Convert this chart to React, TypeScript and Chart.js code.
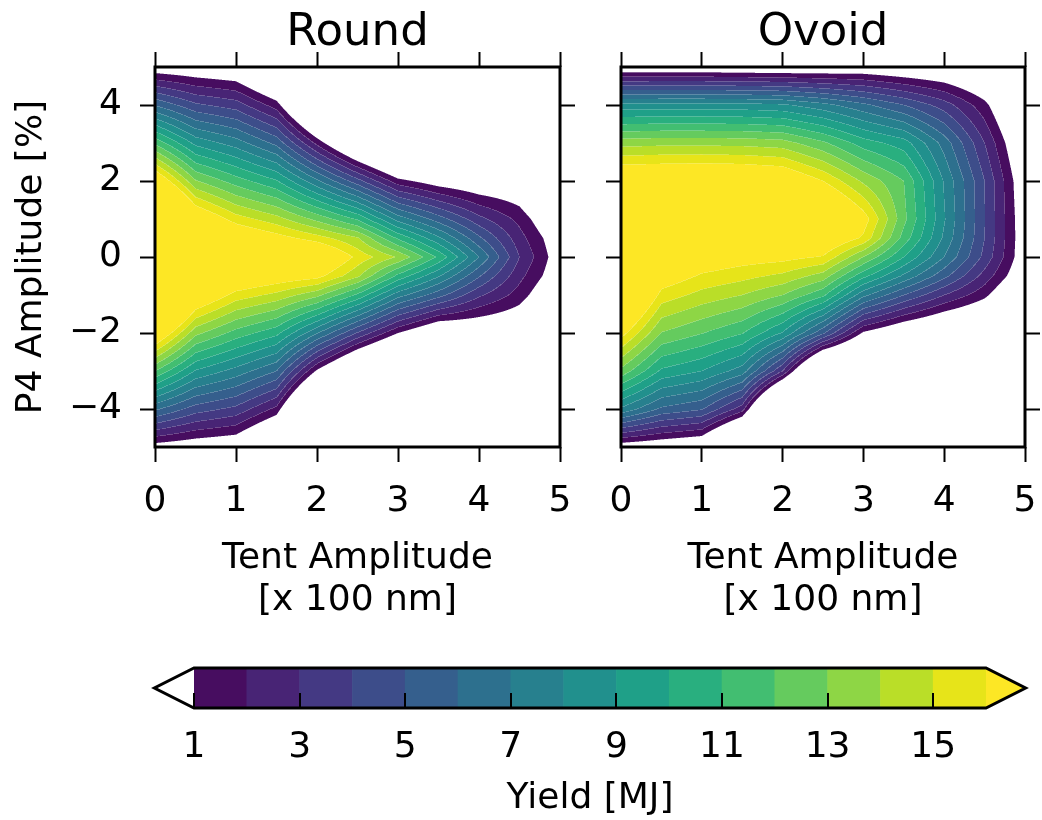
import React, { useEffect, useRef } from 'react';
import { Chart, registerables } from 'chart.js';

Chart.register(...registerables);

// ---------------- data ----------------
const tentAmplitude = [0, 0.5, 1, 1.5, 2, 2.5, 3, 3.5, 4, 4.5, 5];
const p4Amplitude = [5, 4, 3, 2, 1, 0.5, 0, -0.5, -1, -2, -3, -4, -5];

// yield [MJ], one row per P4 amplitude, one column per tent amplitude
const roundYield = [
  [0.06, -0.2, -0.5, -2.9, -9.3, -15.1, -17.4, -15.5, -11.3, -6.7, -12],
  [5.92, 4.2, 3.5, 1.5, -3.8, -8.6, -11.2, -10.3, -7.7, -4.6, -9],
  [11.78, 8.7, 7.5, 5.7, 1.7, -2.1, -4.9, -5.0, -4.0, -2.5, -6],
  [17.64, 13.1, 11.5, 10.1, 7.2, 4.4, 1.4, 0.26, -0.3, -0.4, -3],
  [23.5, 17.6, 15.5, 14.4, 12.7, 10.85, 7.6, 5.5, 3.34, 1.7, -0.8],
  [26.4, 19.8, 17.5, 16.5, 15.45, 14.1, 10.8, 8.2, 5.2, 2.4, 0],
  [29.4, 22.0, 19.5, 18.8, 18.2, 15.7, 13.9, 10.8, 7.0, 3.0, 0.2],
  [26.5, 19.9, 17.6, 16.9, 16.4, 14.2, 10.7, 8.1, 5.1, 2.3, 0],
  [23.6, 17.7, 15.6, 14.7, 13.3, 10.8, 7.45, 5.4, 3.2, 1.55, -0.8],
  [17.8, 13.3, 11.6, 10.3, 7.1, 3.9, 1.0, -0.97, -0.6, -0.6, -3],
  [12.0, 8.9, 7.6, 6.0, 0.8, -2.9, -5.45, -6.3, -4.4, -2.8, -6],
  [6.2, 4.5, 3.7, 1.7, -5.4, -9.7, -11.9, -11.7, -8.2, -5.0, -9],
  [0.4, 0.0, -0.3, -2.8, -11.7, -16.5, -18.4, -17.1, -12.0, -7.2, -12],
];

const ovoidYield = [
  [-0.19, -0.2, -0.2, -0.3, -0.37, -0.3, -0.15, -0.48, -0.74, -1.5, -4],
  [8.33, 8.4, 8.4, 8.35, 8.17, 7.35, 6.25, 5.0, 3.5, 1.35, -2],
  [13.6, 13.7, 13.7, 13.66, 13.44, 12.2, 10.5, 9.5, 6.6, 3.0, -0.9],
  [17.8, 17.9, 18.0, 17.9, 17.6, 16.0, 13.8, 12.0, 7.9, 4.0, -0.2],
  [21.95, 20.7, 19.3, 19.1, 19.6, 19.5, 16.6, 12.3, 8.1, 4.04, 0.0],
  [25.5, 19.4, 18.2, 17.84, 18.0, 17.6, 15.8, 11.6, 7.8, 4.0, 0.05],
  [23.7, 18.15, 17.0, 16.58, 16.4, 15.9, 13.0, 10.0, 7.0, 3.7, 0.05],
  [21.9, 16.9, 15.84, 15.34, 14.75, 13.55, 10.3, 7.8, 5.3, 2.6, -0.3],
  [20.1, 15.6, 14.65, 14.0, 13.0, 11.24, 7.3, 5.0, 3.0, 1.3, -1.5],
  [16.5, 12.95, 12.05, 11.07, 8.9, 5.2, 0.8, -0.7, -1.6, -2, -4],
  [12.7, 9.8, 9.0, 7.5, 3.0, -4.35, -5.3, -6.4, -6.2, -5, -7],
  [7.8, 5.8, 5.1, 2.45, -6.1, -12, -11.4, -12, -10.8, -8, -10],
  [0.16, -0.2, -0.67, -4.8, -15, -20, -17.5, -17.7, -15.4, -11, -13],
];

const yieldLevels = [1, 2, 3, 4, 5, 6, 7, 8, 9, 10, 11, 12, 13, 14, 15, 16];
const tentTicks = [0, 1, 2, 3, 4, 5];
const p4Ticks = [-4, -2, 0, 2, 4];
const yieldTicks = [1, 3, 5, 7, 9, 11, 13, 15];

// ---------------- style ----------------
const FONT = 'DejaVu Sans';
const BAND_COLORS = [
  '#470d60', '#482475', '#443983', '#3d4d8a', '#355f8d', '#2d708e', '#27808e', '#21908d',
  '#1fa088', '#29af7f', '#42be71', '#65cb5e', '#8ed645', '#bade28', '#e7e419',
];
const OVER_COLOR = '#fde725';
const UNDER_COLOR = '#ffffff';

const hexToRgb = (h: string) => [
  parseInt(h.slice(1, 3), 16),
  parseInt(h.slice(3, 5), 16),
  parseInt(h.slice(5, 7), 16),
];
const PALETTE = [...BAND_COLORS, OVER_COLOR].map(hexToRgb);

Chart.defaults.font.family = FONT;
Chart.defaults.color = '#000';

const minusFmt = (v: number) => (v < 0 ? '\u2212' + Math.abs(v) : String(v));

function locate(arr: number[], v: number): [number, number] {
  const n = arr.length;
  const asc = arr[n - 1] > arr[0];
  let i = 0;
  for (; i < n - 2; i++) {
    if (asc ? v <= arr[i + 1] : v >= arr[i + 1]) break;
  }
  let t = (v - arr[i]) / (arr[i + 1] - arr[i]);
  t = Math.max(0, Math.min(1, t));
  return [i, t];
}

function bandOf(v: number) {
  if (v < yieldLevels[0]) return -1;
  const last = yieldLevels.length - 1;
  if (v >= yieldLevels[last]) return last; // over
  for (let k = 0; k < last; k++) if (v < yieldLevels[k + 1]) return k;
  return last;
}

function makeContourPlugin(grid: number[][]) {
  return {
    id: 'contourFill',
    beforeDatasetsDraw(chart: any) {
      const { ctx, chartArea: a, scales } = chart;
      const xs = scales.x;
      const ys = scales.y;
      const w = Math.round(a.right - a.left);
      const h = Math.round(a.bottom - a.top);
      const SS = 3;
      const colI: number[] = [], colT: number[] = [];
      for (let p = 0; p < w * SS; p++) {
        const v = xs.getValueForPixel(a.left + (p + 0.5) / SS);
        const [i, t] = locate(tentAmplitude, v);
        colI.push(i); colT.push(t);
      }
      const rowI: number[] = [], rowT: number[] = [];
      for (let p = 0; p < h * SS; p++) {
        const v = ys.getValueForPixel(a.top + (p + 0.5) / SS);
        const [j, t] = locate(p4Amplitude, v);
        rowI.push(j); rowT.push(t);
      }
      const off = document.createElement('canvas');
      off.width = w; off.height = h;
      const octx = off.getContext('2d')!;
      const img = octx.createImageData(w, h);
      const d = img.data;
      for (let py = 0; py < h; py++) {
        for (let px = 0; px < w; px++) {
          let r = 0, g = 0, b = 0, n = 0, first = -2, mixed = false;
          for (let sy = 0; sy < SS; sy++) {
            const ry = py * SS + sy;
            const j = rowI[ry], ty = rowT[ry];
            const r0 = grid[j], r1 = grid[j + 1];
            for (let sx = 0; sx < SS; sx++) {
              const cx = px * SS + sx;
              const i = colI[cx], tx = colT[cx];
              const top = r0[i] * (1 - tx) + r0[i + 1] * tx;
              const bot = r1[i] * (1 - tx) + r1[i + 1] * tx;
              const v = top * (1 - ty) + bot * ty;
              const k = bandOf(v);
              if (k < 0) continue;
              if (first === -2) first = k; else if (k !== first) mixed = true;
              const c = PALETTE[k];
              r += c[0]; g += c[1]; b += c[2]; n++;
            }
          }
          const o = (py * w + px) * 4;
          if (n === 0) { d[o + 3] = 0; continue; }
          r /= n; g /= n; b /= n;
          if (mixed) {
            const s = 0.22;
            r += (255 - r) * s; g += (255 - g) * s; b += (255 - b) * s;
          }
          d[o] = r; d[o + 1] = g; d[o + 2] = b;
          d[o + 3] = Math.round((255 * n) / (SS * SS));
        }
      }
      octx.putImageData(img, 0, 0);
      ctx.drawImage(off, a.left, a.top);
    },
  };
}

const framePlugin = {
  id: 'frame',
  afterDraw(chart: any) {
    const { ctx, chartArea: a } = chart;
    ctx.save();
    ctx.strokeStyle = '#000';
    ctx.lineWidth = 3;
    ctx.strokeRect(a.left, a.top, a.right - a.left, a.bottom - a.top);
    ctx.restore();
  },
};

const colorbarPlugin = {
  id: 'colorbar',
  afterDraw(chart: any) {
    const { ctx, chartArea: a, scales } = chart;
    const xs = scales.x;
    const x0 = xs.getPixelForValue(yieldLevels[0]);
    const x1 = xs.getPixelForValue(yieldLevels[yieldLevels.length - 1]);
    const ext = 0.05 * (x1 - x0);
    const mid = (a.top + a.bottom) / 2;
    ctx.save();
    for (let k = 0; k < yieldLevels.length - 1; k++) {
      const l = xs.getPixelForValue(yieldLevels[k]);
      const r = xs.getPixelForValue(yieldLevels[k + 1]);
      ctx.fillStyle = BAND_COLORS[k];
      ctx.fillRect(l - 0.3, a.top, r - l + 0.6, a.bottom - a.top);
    }
    ctx.fillStyle = UNDER_COLOR;
    ctx.beginPath();
    ctx.moveTo(x0, a.top); ctx.lineTo(x0 - ext, mid); ctx.lineTo(x0, a.bottom); ctx.closePath();
    ctx.fill();
    ctx.fillStyle = OVER_COLOR;
    ctx.beginPath();
    ctx.moveTo(x1, a.top); ctx.lineTo(x1 + ext, mid); ctx.lineTo(x1, a.bottom); ctx.closePath();
    ctx.fill();
    // ticks (inside, from the bottom edge)
    ctx.strokeStyle = '#000';
    ctx.lineWidth = 2;
    for (const t of yieldTicks) {
      const x = Math.round(xs.getPixelForValue(t));
      ctx.beginPath();
      ctx.moveTo(x, a.bottom);
      ctx.lineTo(x, a.bottom - 15);
      ctx.stroke();
    }
    // outline
    ctx.lineWidth = 3;
    ctx.lineJoin = 'miter';
    ctx.beginPath();
    ctx.moveTo(x0, a.top);
    ctx.lineTo(x1, a.top);
    ctx.lineTo(x1 + ext, mid);
    ctx.lineTo(x1, a.bottom);
    ctx.lineTo(x0, a.bottom);
    ctx.lineTo(x0 - ext, mid);
    ctx.closePath();
    ctx.stroke();
    ctx.restore();
  },
};

const tickGrid = { drawOnChartArea: false, drawTicks: true, tickLength: 15, tickWidth: 2, tickColor: '#000' };
const tickFont = { family: FONT, size: 36 };
const labelFont = { family: FONT, size: 36, lineHeight: 1.15 };

const noSidePadding = (s: any) => {
  s.paddingLeft = 0;
  s.paddingRight = 0;
};

function plotConfig(grid: number[][], title: string, showY: boolean, leftW: number, rightW: number) {
  const setTicks = (vals: number[]) => (s: any) => {
    s.ticks = vals.map((v) => ({ value: v }));
  };
  return {
    type: 'scatter' as const,
    data: { datasets: [{ data: [] as any[], pointRadius: 0 }] },
    options: {
      animation: false as const,
      responsive: false,
      events: [] as any[],
      layout: { padding: 0 },
      plugins: { legend: { display: false }, tooltip: { enabled: false }, title: { display: false } },
      scales: {
        x: {
          type: 'linear' as const, position: 'bottom' as const, min: 0, max: 5,
          afterBuildTicks: setTicks(tentTicks),
          ticks: { font: tickFont, color: '#000', padding: 18, maxRotation: 0, autoSkip: false },
          grid: tickGrid, border: { display: false },
          title: { display: true, text: ['Tent Amplitude', '[x 100 nm]'], font: labelFont, color: '#000', padding: { top: 0, bottom: 19 } },
          afterFit: (s: any) => { s.height = 193; noSidePadding(s); },
        },
        xt: {
          type: 'linear' as const, position: 'top' as const, min: 0, max: 5,
          afterBuildTicks: setTicks(tentTicks),
          ticks: { display: false },
          grid: tickGrid, border: { display: false },
          title: { display: true, text: title, font: { family: FONT, size: 45, lineHeight: 1.2 }, color: '#000', padding: { top: 6, bottom: 0 } },
          afterFit: (s: any) => { s.height = 67; noSidePadding(s); },
        },
        y: {
          type: 'linear' as const, position: 'left' as const, min: -5, max: 5,
          afterBuildTicks: setTicks(p4Ticks),
          ticks: { display: showY, font: tickFont, color: '#000', padding: 18, callback: (v: any) => minusFmt(Number(v)) },
          grid: tickGrid, border: { display: false },
          title: { display: showY, text: 'P4 Amplitude [%]', font: labelFont, color: '#000', padding: { top: 11, bottom: 0 } },
          afterFit: (s: any) => { s.width = leftW; },
        },
        yr: {
          type: 'linear' as const, position: 'right' as const, min: -5, max: 5,
          afterBuildTicks: setTicks(p4Ticks),
          ticks: { display: false },
          grid: tickGrid, border: { display: false },
          afterFit: (s: any) => { s.width = rightW; },
        },
      },
    },
    plugins: [makeContourPlugin(grid), framePlugin],
  };
}

function colorbarConfig() {
  return {
    type: 'scatter' as const,
    data: { datasets: [{ data: [] as any[], pointRadius: 0 }] },
    options: {
      animation: false as const,
      responsive: false,
      events: [] as any[],
      layout: { padding: { left: 194, right: 56, top: 28, bottom: 0 } },
      plugins: { legend: { display: false }, tooltip: { enabled: false } },
      scales: {
        x: {
          type: 'linear' as const, position: 'bottom' as const,
          min: yieldLevels[0], max: yieldLevels[yieldLevels.length - 1],
          afterBuildTicks: (s: any) => { s.ticks = yieldTicks.map((v) => ({ value: v })); },
          ticks: { font: tickFont, color: '#000', padding: 18, maxRotation: 0, autoSkip: false },
          grid: { display: false, drawTicks: false },
          border: { display: false },
          title: { display: true, text: 'Yield [MJ]', font: labelFont, color: '#000', padding: { top: 0, bottom: 1 } },
          afterFit: (s: any) => { s.height = 112; noSidePadding(s); },
        },
        y: { display: false, min: 0, max: 1 },
      },
    },
    plugins: [colorbarPlugin],
  };
}

export default function App() {
  const roundRef = useRef<HTMLCanvasElement>(null);
  const ovoidRef = useRef<HTMLCanvasElement>(null);
  const cbarRef = useRef<HTMLCanvasElement>(null);

  useEffect(() => {
    const charts: Chart[] = [];
    charts.push(new Chart(roundRef.current!, plotConfig(roundYield, 'Round', true, 155, 30) as any));
    charts.push(new Chart(ovoidRef.current!, plotConfig(ovoidYield, 'Ovoid', false, 31, 17) as any));
    charts.push(new Chart(cbarRef.current!, colorbarConfig() as any));
    return () => charts.forEach((c) => c.destroy());
  }, []);

  const abs = (left: number, top: number, width: number, height: number): React.CSSProperties => ({
    position: 'absolute', left, top, width, height,
  });

  return (
    <div style={{ position: 'fixed', left: 0, top: 0, width: 1042, height: 820, background: '#fff' }}>
      <canvas ref={roundRef} width={590} height={640} style={abs(0, 0, 590, 640)} />
      <canvas ref={ovoidRef} width={452} height={640} style={abs(590, 0, 452, 640)} />
      <canvas ref={cbarRef} width={1042} height={180} style={abs(0, 640, 1042, 180)} />
    </div>
  );
}
